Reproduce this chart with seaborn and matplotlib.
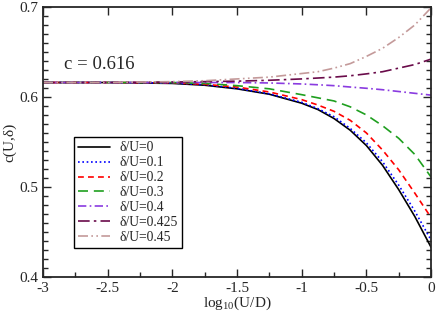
import numpy as np
import pandas as pd
import seaborn as sns
import matplotlib
matplotlib.use("Agg")
import matplotlib.pyplot as plt
from matplotlib.ticker import MultipleLocator

# values
log_u = [-3, -2.5, -2, -1.75, -1.5, -1.25, -1, -0.875, -0.75, -0.625, -0.5, -0.375, -0.25, -0.125, 0]
c_0 = [.616, .616, .615, .613, .609, .603, .593, .586, .576, .563, .546, .524, .497, .467, .433]
c_01 = [.616, .616, .6155, .6135, .6095, .6035, .594, .587, .578, .565, .549, .528, .502, .473, .441]
c_02 = [.616, .616, .6158, .614, .611, .6055, .597, .591, .584, .574, .560, .541, .519, .493, .466]
c_03 = [.616, .616, .616, .615, .6125, .609, .6025, .599, .5955, .589, .580, .568, .554, .536, .511]
c_04 = [.616, .616, .616, .616, .616, .6155, .6144, .6135, .6125, .611, .6096, .608, .606, .604, .602]
c_0425 = [.616, .616, .6165, .617, .6175, .6185, .620, .621, .622, .6235, .6256, .628, .632, .636, .642]
c_045 = [.616, .616, .617, .618, .620, .622, .626, .628, .632, .637, .645, .654, .666, .680, .699]
labels = ["δ/U=0", "δ/U=0.1", "δ/U=0.2", "δ/U=0.3", "δ/U=0.4", "δ/U=0.425", "δ/U=0.45"]

series = [c_0, c_01, c_02, c_03, c_04, c_0425, c_045]
df = pd.DataFrame({
    "x": log_u * len(series),
    "c": sum(series, []),
    "delta": [l for l in labels for _ in log_u],
})

colors = ["black", "#0000ff", "#ff0000", "#1f9f1f", "#8a3be0", "#6a0b4a", "#c49a9a"]
dashes = [(None, None), (1, 1.6), (3.5, 2.5), (6, 3.5), (5, 2, 1, 2), (7, 2.5, 1.5, 2.5), (6, 2, 1, 2, 1, 2)]

sns.set_style("ticks")
plt.rcParams["font.family"] = ["Liberation Serif", "DejaVu Serif"]
plt.rcParams["mathtext.fontset"] = "custom"
plt.rcParams["mathtext.rm"] = "Liberation Serif"

fig = plt.figure(figsize=(4.36, 3.15), dpi=100)
ax = fig.add_axes([0.0986, 0.121, 0.89, 0.857])

for lab, col, ds in zip(labels, colors, dashes):
    sub = df[df["delta"] == lab]
    sns.lineplot(data=sub, x="x", y="c", color=col, linewidth=1.2, label=lab, ax=ax)
    ln = ax.lines[-1]
    if ds[0] is not None:
        ln.set_dashes(ds)

ax.set_xlim(-3, 0)
ax.set_ylim(0.4, 0.7)
ax.xaxis.set_major_locator(MultipleLocator(0.5))
ax.xaxis.set_minor_locator(MultipleLocator(0.25))
ax.yaxis.set_major_locator(MultipleLocator(0.1))
ax.yaxis.set_minor_locator(MultipleLocator(0.01))
ax.set_xticklabels([("%g" % t) for t in ax.get_xticks()])
ax.set_yticklabels([("%g" % t) for t in ax.get_yticks()])
ax.tick_params(which="both", direction="in", top=True, right=True, labelsize=11, width=1)
ax.tick_params(which="major", length=6)
ax.tick_params(which="minor", length=3.5)
ax.tick_params(axis="x", which="minor", top=False)
for sp in ax.spines.values():
    sp.set_linewidth(1.3)
    sp.set_visible(True)

ax.set_xlabel("log$_{10}$(U/D)", fontsize=11, labelpad=0)
ax.set_ylabel("c(U,δ)", fontsize=11, labelpad=2)
ax.text(-2.84, 0.636, "c = 0.616", fontsize=13.5, va="center")

leg = ax.legend(loc="lower left", bbox_to_anchor=(0.08, 0.107), fontsize=9.8,
                frameon=True, fancybox=False, edgecolor="black", framealpha=1,
                handlelength=2.35, handletextpad=0.72, labelspacing=0.14, borderpad=0.3,
                borderaxespad=0)
leg.get_frame().set_linewidth(1)

fig.savefig("out.png", dpi=100)
